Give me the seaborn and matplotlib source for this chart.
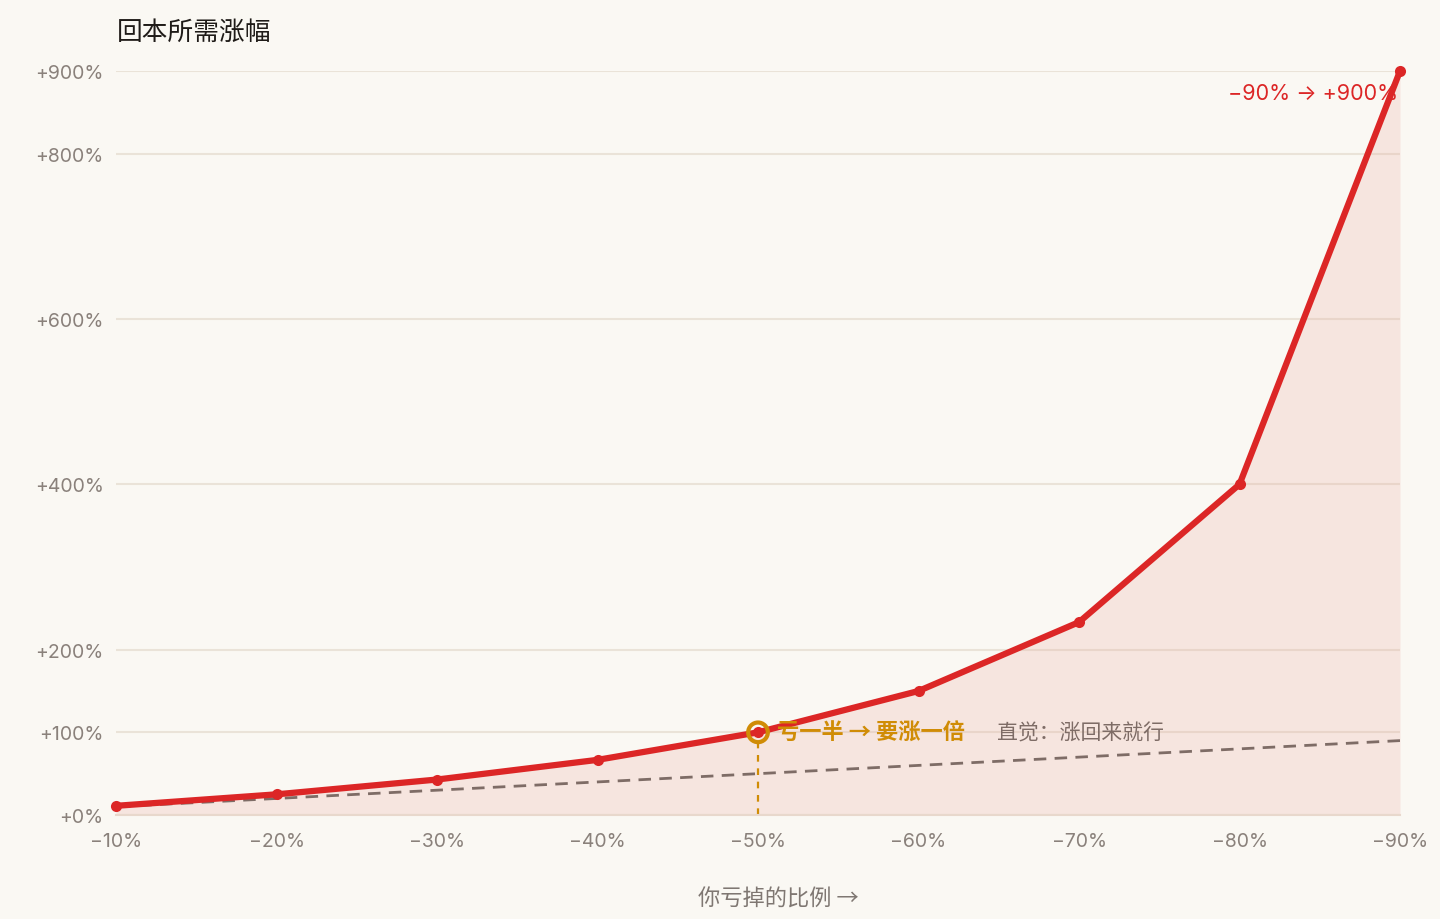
import matplotlib
matplotlib.use("Agg")
import matplotlib.pyplot as plt
import pandas as pd
import seaborn as sns

# Data
loss = [-10, -20, -30, -40, -50, -60, -70, -80, -90]
needed_gain = [11.1, 25.0, 42.9, 66.7, 100.0, 150.0, 233.3, 400.0, 900.0]
intuition_gain = [10, 20, 30, 40, 50, 60, 70, 80, 90]
x_tick_labels = ["−10%", "−20%", "−30%", "−40%", "−50%", "−60%", "−70%", "−80%", "−90%"]
y_ticks = [0, 100, 200, 400, 600, 800, 900]
y_tick_labels = ["+0%", "+100%", "+200%", "+400%", "+600%", "+800%", "+900%"]

df = pd.DataFrame({"loss": loss, "needed": needed_gain, "intuition": intuition_gain})

bg = "#FAF8F3"
red = "#DC2626"
gold = "#D08C06"
brown = "#7E6C66"
grid = "#EAE3D8"
tick_col = "#8A817B"
latin = ["Inter", "Noto Sans CJK SC", "DejaVu Sans"]

sns.set_theme(style="white")
plt.rcParams["font.family"] = ["Noto Sans CJK SC", "DejaVu Sans"]

fig = plt.figure(figsize=(14.4, 9.2), dpi=100, facecolor=bg)
ax = fig.add_axes([116 / 1440, 1 - 816 / 920, (1400 - 116) / 1440, (816 - 72) / 920])
ax.set_facecolor(bg)

# fill under the curve
ax.fill_between(df["loss"], 0, df["needed"], color="#E8A49A", alpha=0.22, lw=0, zorder=1)

# intuition line
sns.lineplot(data=df, x="loss", y="intuition", ax=ax, color=brown, lw=2,
             linestyle=(0, (4.5, 3)), zorder=3)
# needed gain curve
sns.lineplot(data=df, x="loss", y="needed", ax=ax, color=red, lw=4.5,
             marker="o", markersize=8, markeredgewidth=0, zorder=4, clip_on=False)

# highlight -50%
half = df[df["loss"] == -50]
ax.vlines(half["loss"], 0, half["needed"], colors=gold, linestyles=(0, (3, 3)), lw=1.6, zorder=2)
ax.scatter(half["loss"], half["needed"], s=200, facecolors="none", edgecolors=gold,
           linewidths=3, zorder=5)

ax.text(-51.2, 100, "亏一半 → 要涨一倍", color=gold, fontsize=16, fontweight="bold",
        va="center", ha="left", zorder=6)
ax.text(-64.9, 100, "直觉：涨回来就行", color=brown, fontsize=15, style="italic",
        va="center", ha="left", zorder=6)
ax.text(-89.9, 873, "−90% → +900%", color=red, fontsize=15.5, family=latin,
        va="center", ha="right", zorder=6)

ax.set_xlim(-10, -90)
ax.set_ylim(0, 900)
ax.set_xticks(loss)
ax.set_xticklabels(x_tick_labels, family=latin)
ax.set_yticks(y_ticks)
ax.set_yticklabels(y_tick_labels, family=latin)
ax.tick_params(axis="both", length=0, labelsize=14, labelcolor=tick_col)
ax.tick_params(axis="x", pad=12)
ax.tick_params(axis="y", pad=9)
ax.grid(axis="y", color=grid, lw=1.5)
ax.set_axisbelow(True)
for s in ["top", "right", "left"]:
    ax.spines[s].set_visible(False)
ax.spines["bottom"].set_color("#E8D8CC")
ax.spines["bottom"].set_linewidth(1.5)

ax.set_ylabel("")
ax.set_xlabel("你亏掉的比例 →", fontsize=16, color="#7F7772")
ax.xaxis.set_label_coords(0.5156, -0.096)
fig.text(117 / 1440, 1 - 33 / 920, "回本所需涨幅", fontsize=18.5, color="#1F1B18",
         va="center", ha="left")

fig.savefig("out.png", dpi=100, facecolor=bg)
